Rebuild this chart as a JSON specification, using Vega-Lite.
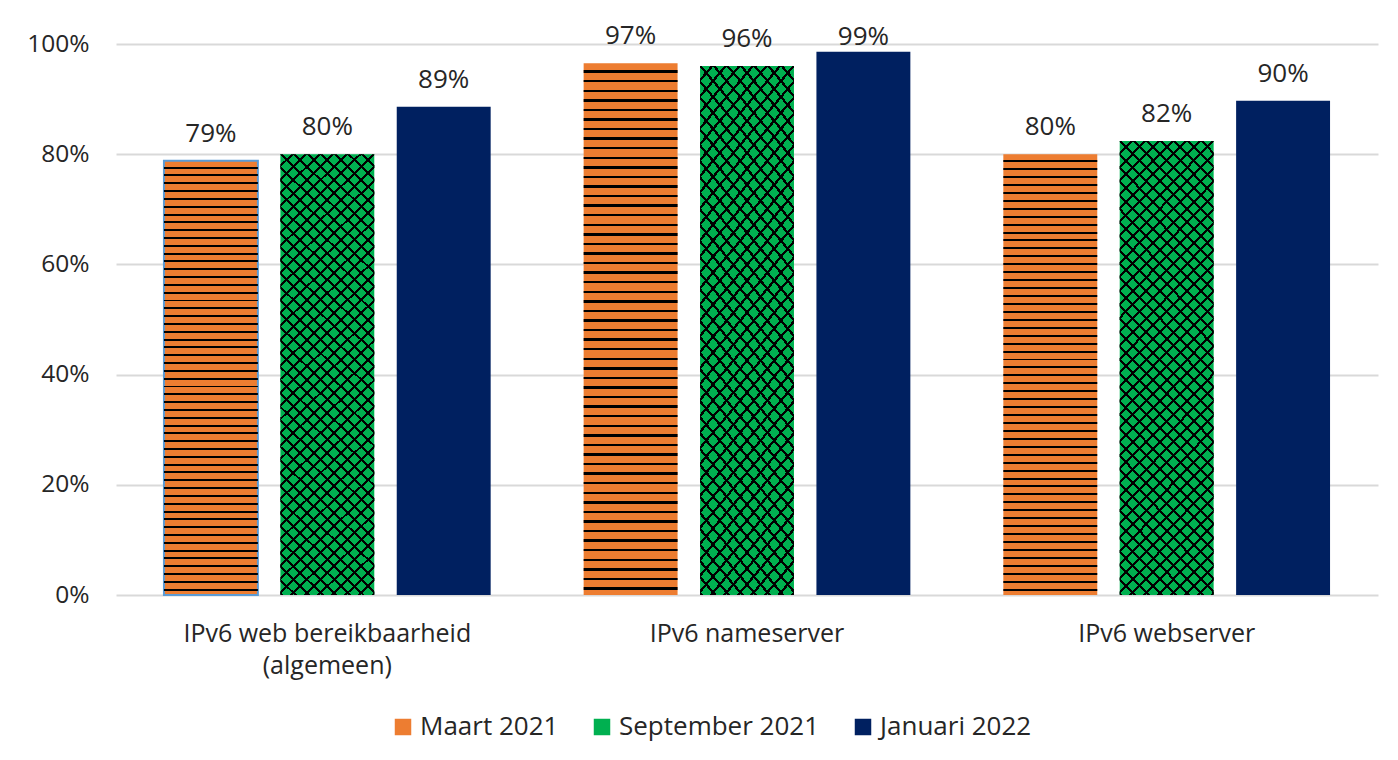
{
  "$schema": "https://vega.github.io/schema/vega-lite/v6.json",
  "width": 1262,
  "height": 551,
  "autosize": {"type": "none"},
  "padding": {"left": 116, "top": 44, "right": 20, "bottom": 165},
  "background": "white",
  "config": {
    "font": "Open Sans",
    "view": {"stroke": null},
    "axis": {"labelColor": "#262626", "titleColor": "#262626"}
  },
  "data": {
    "values": [
      {"cat": "IPv6 web bereikbaarheid (algemeen)", "series": "Maart 2021", "value": 0.788},
      {"cat": "IPv6 web bereikbaarheid (algemeen)", "series": "September 2021", "value": 0.80},
      {"cat": "IPv6 web bereikbaarheid (algemeen)", "series": "Januari 2022", "value": 0.886},
      {"cat": "IPv6 nameserver", "series": "Maart 2021", "value": 0.965},
      {"cat": "IPv6 nameserver", "series": "September 2021", "value": 0.96},
      {"cat": "IPv6 nameserver", "series": "Januari 2022", "value": 0.986},
      {"cat": "IPv6 webserver", "series": "Maart 2021", "value": 0.80},
      {"cat": "IPv6 webserver", "series": "September 2021", "value": 0.824},
      {"cat": "IPv6 webserver", "series": "Januari 2022", "value": 0.897}
    ]
  },
  "encoding": {
    "x": {
      "field": "cat",
      "type": "nominal",
      "sort": ["IPv6 web bereikbaarheid (algemeen)", "IPv6 nameserver", "IPv6 webserver"],
      "scale": {"paddingInner": 0.168, "paddingOuter": 0.0875},
      "axis": {
        "title": null,
        "labelAngle": 0,
        "labelFontSize": 25,
        "labelPadding": 26,
        "labelLineHeight": 32,
        "labelLimit": 0,
        "ticks": false,
        "domain": false,
        "labelExpr": "datum.value === 'IPv6 web bereikbaarheid (algemeen)' ? ['IPv6 web bereikbaarheid', '(algemeen)'] : datum.label"
      }
    },
    "xOffset": {
      "field": "series",
      "type": "nominal",
      "sort": ["Maart 2021", "September 2021", "Januari 2022"],
      "scale": {"domain": ["Maart 2021", "September 2021", "Januari 2022"], "paddingInner": 0.193, "paddingOuter": 0.0965}
    },
    "y": {
      "field": "value",
      "type": "quantitative",
      "scale": {"domain": [0, 1], "nice": false},
      "axis": {
        "title": null,
        "values": [0, 0.2, 0.4, 0.6, 0.8, 1],
        "format": ".0%",
        "labelFontSize": 24.5,
        "labelPadding": 27,
        "ticks": false,
        "domain": false,
        "gridColor": "#d9d9d9",
        "gridWidth": 2
      }
    }
  },
  "layer": [
    {
      "mark": {"type": "bar", "strokeWidth": 2},
      "encoding": {
        "color": {
          "field": "series",
          "type": "nominal",
          "scale": {
            "domain": ["Maart 2021", "September 2021", "Januari 2022"],
            "range": ["#ED7D31", "#00B050", "#002060"]
          },
          "legend": {
            "title": null,
            "orient": "none",
            "legendX": 274,
            "legendY": 670,
            "direction": "horizontal",
            "symbolType": "square",
            "symbolSize": 272,
            "symbolStrokeWidth": 0,
            "labelFontSize": 26,
            "labelColor": "#262626",
            "labelOffset": 4,
            "columnPadding": 30,
            "labelLimit": 0,
            "encode": {
              "symbols": {
                "enter": {
                  "fill": {"signal": "datum.value === 'Maart 2021' ? {gradient: 'linear', x1: 0, y1: 0, x2: 0, y2: 1, stops: [{offset: 0, color: '#ED7D31'}, {offset: 0.3, color: '#ED7D31'}, {offset: 0.3, color: '#000'}, {offset: 0.42, color: '#000'}, {offset: 0.42, color: '#ED7D31'}, {offset: 0.62, color: '#ED7D31'}, {offset: 0.62, color: '#000'}, {offset: 0.74, color: '#000'}, {offset: 0.74, color: '#ED7D31'}, {offset: 1, color: '#ED7D31'}]} : datum.value === 'September 2021' ? {gradient: 'linear', x1: 0, y1: 0, x2: 1, y2: 1, stops: [{offset: 0, color: '#00B050'}, {offset: 0.22, color: '#00B050'}, {offset: 0.22, color: '#000'}, {offset: 0.29, color: '#000'}, {offset: 0.29, color: '#00B050'}, {offset: 0.71, color: '#00B050'}, {offset: 0.71, color: '#000'}, {offset: 0.78, color: '#000'}, {offset: 0.78, color: '#00B050'}, {offset: 1, color: '#00B050'}]} : '#002060'"}
                },
                "update": {
                  "fill": {"signal": "datum.value === 'Maart 2021' ? {gradient: 'linear', x1: 0, y1: 0, x2: 0, y2: 1, stops: [{offset: 0, color: '#ED7D31'}, {offset: 0.3, color: '#ED7D31'}, {offset: 0.3, color: '#000'}, {offset: 0.42, color: '#000'}, {offset: 0.42, color: '#ED7D31'}, {offset: 0.62, color: '#ED7D31'}, {offset: 0.62, color: '#000'}, {offset: 0.74, color: '#000'}, {offset: 0.74, color: '#ED7D31'}, {offset: 1, color: '#ED7D31'}]} : datum.value === 'September 2021' ? {gradient: 'linear', x1: 0, y1: 0, x2: 1, y2: 1, stops: [{offset: 0, color: '#00B050'}, {offset: 0.22, color: '#00B050'}, {offset: 0.22, color: '#000'}, {offset: 0.29, color: '#000'}, {offset: 0.29, color: '#00B050'}, {offset: 0.71, color: '#00B050'}, {offset: 0.71, color: '#000'}, {offset: 0.78, color: '#000'}, {offset: 0.78, color: '#00B050'}, {offset: 1, color: '#00B050'}]} : '#002060'"}
                }
              }
            }
          }
        },
        "stroke": {
          "condition": {"test": "datum.cat === 'IPv6 web bereikbaarheid (algemeen)' && datum.series === 'Maart 2021'", "value": "#5B9BD5"},
          "value": "rgba(0,0,0,0)"
        }
      }
    },
    {
      "transform": [{"filter": "datum.series === 'Maart 2021'"}],
      "mark": {
        "type": "bar",
        "fill": {"gradient": "linear", "x1": 0, "y1": 0, "x2": 0, "y2": 1, "stops": [
          {"offset": 0, "color": "rgba(0,0,0,0)"}, {"offset": 0.0135, "color": "rgba(0,0,0,0)"}, {"offset": 0.0135, "color": "#000"}, {"offset": 0.018, "color": "#000"},
          {"offset": 0.018, "color": "rgba(0,0,0,0)"}, {"offset": 0.0315, "color": "rgba(0,0,0,0)"}, {"offset": 0.0315, "color": "#000"}, {"offset": 0.036, "color": "#000"},
          {"offset": 0.036, "color": "rgba(0,0,0,0)"}, {"offset": 0.0495, "color": "rgba(0,0,0,0)"}, {"offset": 0.0495, "color": "#000"}, {"offset": 0.054, "color": "#000"},
          {"offset": 0.054, "color": "rgba(0,0,0,0)"}, {"offset": 0.0675, "color": "rgba(0,0,0,0)"}, {"offset": 0.0675, "color": "#000"}, {"offset": 0.072, "color": "#000"},
          {"offset": 0.072, "color": "rgba(0,0,0,0)"}, {"offset": 0.0855, "color": "rgba(0,0,0,0)"}, {"offset": 0.0855, "color": "#000"}, {"offset": 0.09, "color": "#000"},
          {"offset": 0.09, "color": "rgba(0,0,0,0)"}, {"offset": 0.1035, "color": "rgba(0,0,0,0)"}, {"offset": 0.1035, "color": "#000"}, {"offset": 0.108, "color": "#000"},
          {"offset": 0.108, "color": "rgba(0,0,0,0)"}, {"offset": 0.1215, "color": "rgba(0,0,0,0)"}, {"offset": 0.1215, "color": "#000"}, {"offset": 0.126, "color": "#000"},
          {"offset": 0.126, "color": "rgba(0,0,0,0)"}, {"offset": 0.1395, "color": "rgba(0,0,0,0)"}, {"offset": 0.1395, "color": "#000"}, {"offset": 0.144, "color": "#000"},
          {"offset": 0.144, "color": "rgba(0,0,0,0)"}, {"offset": 0.1575, "color": "rgba(0,0,0,0)"}, {"offset": 0.1575, "color": "#000"}, {"offset": 0.162, "color": "#000"},
          {"offset": 0.162, "color": "rgba(0,0,0,0)"}, {"offset": 0.1755, "color": "rgba(0,0,0,0)"}, {"offset": 0.1755, "color": "#000"}, {"offset": 0.18, "color": "#000"},
          {"offset": 0.18, "color": "rgba(0,0,0,0)"}, {"offset": 0.1935, "color": "rgba(0,0,0,0)"}, {"offset": 0.1935, "color": "#000"}, {"offset": 0.198, "color": "#000"},
          {"offset": 0.198, "color": "rgba(0,0,0,0)"}, {"offset": 0.2115, "color": "rgba(0,0,0,0)"}, {"offset": 0.2115, "color": "#000"}, {"offset": 0.216, "color": "#000"},
          {"offset": 0.216, "color": "rgba(0,0,0,0)"}, {"offset": 0.2295, "color": "rgba(0,0,0,0)"}, {"offset": 0.2295, "color": "#000"}, {"offset": 0.234, "color": "#000"},
          {"offset": 0.234, "color": "rgba(0,0,0,0)"}, {"offset": 0.2475, "color": "rgba(0,0,0,0)"}, {"offset": 0.2475, "color": "#000"}, {"offset": 0.252, "color": "#000"},
          {"offset": 0.252, "color": "rgba(0,0,0,0)"}, {"offset": 0.2655, "color": "rgba(0,0,0,0)"}, {"offset": 0.2655, "color": "#000"}, {"offset": 0.27, "color": "#000"},
          {"offset": 0.27, "color": "rgba(0,0,0,0)"}, {"offset": 0.2835, "color": "rgba(0,0,0,0)"}, {"offset": 0.2835, "color": "#000"}, {"offset": 0.288, "color": "#000"},
          {"offset": 0.288, "color": "rgba(0,0,0,0)"}, {"offset": 0.3015, "color": "rgba(0,0,0,0)"}, {"offset": 0.3015, "color": "#000"}, {"offset": 0.306, "color": "#000"},
          {"offset": 0.306, "color": "rgba(0,0,0,0)"}, {"offset": 0.3195, "color": "rgba(0,0,0,0)"}, {"offset": 0.3195, "color": "#000"}, {"offset": 0.324, "color": "#000"},
          {"offset": 0.324, "color": "rgba(0,0,0,0)"}, {"offset": 0.3375, "color": "rgba(0,0,0,0)"}, {"offset": 0.3375, "color": "#000"}, {"offset": 0.342, "color": "#000"},
          {"offset": 0.342, "color": "rgba(0,0,0,0)"}, {"offset": 0.3555, "color": "rgba(0,0,0,0)"}, {"offset": 0.3555, "color": "#000"}, {"offset": 0.36, "color": "#000"},
          {"offset": 0.36, "color": "rgba(0,0,0,0)"}, {"offset": 0.3735, "color": "rgba(0,0,0,0)"}, {"offset": 0.3735, "color": "#000"}, {"offset": 0.378, "color": "#000"},
          {"offset": 0.378, "color": "rgba(0,0,0,0)"}, {"offset": 0.3915, "color": "rgba(0,0,0,0)"}, {"offset": 0.3915, "color": "#000"}, {"offset": 0.396, "color": "#000"},
          {"offset": 0.396, "color": "rgba(0,0,0,0)"}, {"offset": 0.4095, "color": "rgba(0,0,0,0)"}, {"offset": 0.4095, "color": "#000"}, {"offset": 0.414, "color": "#000"},
          {"offset": 0.414, "color": "rgba(0,0,0,0)"}, {"offset": 0.4275, "color": "rgba(0,0,0,0)"}, {"offset": 0.4275, "color": "#000"}, {"offset": 0.432, "color": "#000"},
          {"offset": 0.432, "color": "rgba(0,0,0,0)"}, {"offset": 0.4455, "color": "rgba(0,0,0,0)"}, {"offset": 0.4455, "color": "#000"}, {"offset": 0.45, "color": "#000"},
          {"offset": 0.45, "color": "rgba(0,0,0,0)"}, {"offset": 0.4635, "color": "rgba(0,0,0,0)"}, {"offset": 0.4635, "color": "#000"}, {"offset": 0.468, "color": "#000"},
          {"offset": 0.468, "color": "rgba(0,0,0,0)"}, {"offset": 0.4815, "color": "rgba(0,0,0,0)"}, {"offset": 0.4815, "color": "#000"}, {"offset": 0.486, "color": "#000"},
          {"offset": 0.486, "color": "rgba(0,0,0,0)"}, {"offset": 0.4995, "color": "rgba(0,0,0,0)"}, {"offset": 0.4995, "color": "#000"}, {"offset": 0.504, "color": "#000"},
          {"offset": 0.504, "color": "rgba(0,0,0,0)"}, {"offset": 0.5175, "color": "rgba(0,0,0,0)"}, {"offset": 0.5175, "color": "#000"}, {"offset": 0.522, "color": "#000"},
          {"offset": 0.522, "color": "rgba(0,0,0,0)"}, {"offset": 0.5355, "color": "rgba(0,0,0,0)"}, {"offset": 0.5355, "color": "#000"}, {"offset": 0.54, "color": "#000"},
          {"offset": 0.54, "color": "rgba(0,0,0,0)"}, {"offset": 0.5535, "color": "rgba(0,0,0,0)"}, {"offset": 0.5535, "color": "#000"}, {"offset": 0.558, "color": "#000"},
          {"offset": 0.558, "color": "rgba(0,0,0,0)"}, {"offset": 0.5715, "color": "rgba(0,0,0,0)"}, {"offset": 0.5715, "color": "#000"}, {"offset": 0.576, "color": "#000"},
          {"offset": 0.576, "color": "rgba(0,0,0,0)"}, {"offset": 0.5895, "color": "rgba(0,0,0,0)"}, {"offset": 0.5895, "color": "#000"}, {"offset": 0.594, "color": "#000"},
          {"offset": 0.594, "color": "rgba(0,0,0,0)"}, {"offset": 0.6075, "color": "rgba(0,0,0,0)"}, {"offset": 0.6075, "color": "#000"}, {"offset": 0.612, "color": "#000"},
          {"offset": 0.612, "color": "rgba(0,0,0,0)"}, {"offset": 0.6255, "color": "rgba(0,0,0,0)"}, {"offset": 0.6255, "color": "#000"}, {"offset": 0.63, "color": "#000"},
          {"offset": 0.63, "color": "rgba(0,0,0,0)"}, {"offset": 0.6435, "color": "rgba(0,0,0,0)"}, {"offset": 0.6435, "color": "#000"}, {"offset": 0.648, "color": "#000"},
          {"offset": 0.648, "color": "rgba(0,0,0,0)"}, {"offset": 0.6615, "color": "rgba(0,0,0,0)"}, {"offset": 0.6615, "color": "#000"}, {"offset": 0.666, "color": "#000"},
          {"offset": 0.666, "color": "rgba(0,0,0,0)"}, {"offset": 0.6795, "color": "rgba(0,0,0,0)"}, {"offset": 0.6795, "color": "#000"}, {"offset": 0.684, "color": "#000"},
          {"offset": 0.684, "color": "rgba(0,0,0,0)"}, {"offset": 0.6975, "color": "rgba(0,0,0,0)"}, {"offset": 0.6975, "color": "#000"}, {"offset": 0.702, "color": "#000"},
          {"offset": 0.702, "color": "rgba(0,0,0,0)"}, {"offset": 0.7155, "color": "rgba(0,0,0,0)"}, {"offset": 0.7155, "color": "#000"}, {"offset": 0.72, "color": "#000"},
          {"offset": 0.72, "color": "rgba(0,0,0,0)"}, {"offset": 0.7335, "color": "rgba(0,0,0,0)"}, {"offset": 0.7335, "color": "#000"}, {"offset": 0.738, "color": "#000"},
          {"offset": 0.738, "color": "rgba(0,0,0,0)"}, {"offset": 0.7515, "color": "rgba(0,0,0,0)"}, {"offset": 0.7515, "color": "#000"}, {"offset": 0.756, "color": "#000"},
          {"offset": 0.756, "color": "rgba(0,0,0,0)"}, {"offset": 0.7695, "color": "rgba(0,0,0,0)"}, {"offset": 0.7695, "color": "#000"}, {"offset": 0.774, "color": "#000"},
          {"offset": 0.774, "color": "rgba(0,0,0,0)"}, {"offset": 0.7875, "color": "rgba(0,0,0,0)"}, {"offset": 0.7875, "color": "#000"}, {"offset": 0.792, "color": "#000"},
          {"offset": 0.792, "color": "rgba(0,0,0,0)"}, {"offset": 0.8055, "color": "rgba(0,0,0,0)"}, {"offset": 0.8055, "color": "#000"}, {"offset": 0.81, "color": "#000"},
          {"offset": 0.81, "color": "rgba(0,0,0,0)"}, {"offset": 0.8235, "color": "rgba(0,0,0,0)"}, {"offset": 0.8235, "color": "#000"}, {"offset": 0.828, "color": "#000"},
          {"offset": 0.828, "color": "rgba(0,0,0,0)"}, {"offset": 0.8415, "color": "rgba(0,0,0,0)"}, {"offset": 0.8415, "color": "#000"}, {"offset": 0.846, "color": "#000"},
          {"offset": 0.846, "color": "rgba(0,0,0,0)"}, {"offset": 0.8595, "color": "rgba(0,0,0,0)"}, {"offset": 0.8595, "color": "#000"}, {"offset": 0.864, "color": "#000"},
          {"offset": 0.864, "color": "rgba(0,0,0,0)"}, {"offset": 0.8775, "color": "rgba(0,0,0,0)"}, {"offset": 0.8775, "color": "#000"}, {"offset": 0.882, "color": "#000"},
          {"offset": 0.882, "color": "rgba(0,0,0,0)"}, {"offset": 0.8955, "color": "rgba(0,0,0,0)"}, {"offset": 0.8955, "color": "#000"}, {"offset": 0.9, "color": "#000"},
          {"offset": 0.9, "color": "rgba(0,0,0,0)"}, {"offset": 0.9135, "color": "rgba(0,0,0,0)"}, {"offset": 0.9135, "color": "#000"}, {"offset": 0.918, "color": "#000"},
          {"offset": 0.918, "color": "rgba(0,0,0,0)"}, {"offset": 0.9315, "color": "rgba(0,0,0,0)"}, {"offset": 0.9315, "color": "#000"}, {"offset": 0.936, "color": "#000"},
          {"offset": 0.936, "color": "rgba(0,0,0,0)"}, {"offset": 0.9495, "color": "rgba(0,0,0,0)"}, {"offset": 0.9495, "color": "#000"}, {"offset": 0.954, "color": "#000"},
          {"offset": 0.954, "color": "rgba(0,0,0,0)"}, {"offset": 0.9675, "color": "rgba(0,0,0,0)"}, {"offset": 0.9675, "color": "#000"}, {"offset": 0.972, "color": "#000"},
          {"offset": 0.972, "color": "rgba(0,0,0,0)"}, {"offset": 0.9855, "color": "rgba(0,0,0,0)"}, {"offset": 0.9855, "color": "#000"}, {"offset": 0.99, "color": "#000"},
          {"offset": 0.99, "color": "rgba(0,0,0,0)"}, {"offset": 1, "color": "rgba(0,0,0,0)"}
        ]}
      }
    },
    {
      "transform": [{"filter": "datum.series === 'September 2021'"}],
      "mark": {
        "type": "bar",
        "fill": {"gradient": "linear", "x1": 0, "y1": 0, "x2": 0.242, "y2": 1.158, "stops": [
          {"offset": 0, "color": "rgba(0,0,0,0)"}, {"offset": 0.0195, "color": "rgba(0,0,0,0)"}, {"offset": 0.0195, "color": "#000"}, {"offset": 0.025, "color": "#000"},
          {"offset": 0.025, "color": "rgba(0,0,0,0)"}, {"offset": 0.0445, "color": "rgba(0,0,0,0)"}, {"offset": 0.0445, "color": "#000"}, {"offset": 0.05, "color": "#000"},
          {"offset": 0.05, "color": "rgba(0,0,0,0)"}, {"offset": 0.0695, "color": "rgba(0,0,0,0)"}, {"offset": 0.0695, "color": "#000"}, {"offset": 0.075, "color": "#000"},
          {"offset": 0.075, "color": "rgba(0,0,0,0)"}, {"offset": 0.0945, "color": "rgba(0,0,0,0)"}, {"offset": 0.0945, "color": "#000"}, {"offset": 0.1, "color": "#000"},
          {"offset": 0.1, "color": "rgba(0,0,0,0)"}, {"offset": 0.1195, "color": "rgba(0,0,0,0)"}, {"offset": 0.1195, "color": "#000"}, {"offset": 0.125, "color": "#000"},
          {"offset": 0.125, "color": "rgba(0,0,0,0)"}, {"offset": 0.1445, "color": "rgba(0,0,0,0)"}, {"offset": 0.1445, "color": "#000"}, {"offset": 0.15, "color": "#000"},
          {"offset": 0.15, "color": "rgba(0,0,0,0)"}, {"offset": 0.1695, "color": "rgba(0,0,0,0)"}, {"offset": 0.1695, "color": "#000"}, {"offset": 0.175, "color": "#000"},
          {"offset": 0.175, "color": "rgba(0,0,0,0)"}, {"offset": 0.1945, "color": "rgba(0,0,0,0)"}, {"offset": 0.1945, "color": "#000"}, {"offset": 0.2, "color": "#000"},
          {"offset": 0.2, "color": "rgba(0,0,0,0)"}, {"offset": 0.2195, "color": "rgba(0,0,0,0)"}, {"offset": 0.2195, "color": "#000"}, {"offset": 0.225, "color": "#000"},
          {"offset": 0.225, "color": "rgba(0,0,0,0)"}, {"offset": 0.2445, "color": "rgba(0,0,0,0)"}, {"offset": 0.2445, "color": "#000"}, {"offset": 0.25, "color": "#000"},
          {"offset": 0.25, "color": "rgba(0,0,0,0)"}, {"offset": 0.2695, "color": "rgba(0,0,0,0)"}, {"offset": 0.2695, "color": "#000"}, {"offset": 0.275, "color": "#000"},
          {"offset": 0.275, "color": "rgba(0,0,0,0)"}, {"offset": 0.2945, "color": "rgba(0,0,0,0)"}, {"offset": 0.2945, "color": "#000"}, {"offset": 0.3, "color": "#000"},
          {"offset": 0.3, "color": "rgba(0,0,0,0)"}, {"offset": 0.3195, "color": "rgba(0,0,0,0)"}, {"offset": 0.3195, "color": "#000"}, {"offset": 0.325, "color": "#000"},
          {"offset": 0.325, "color": "rgba(0,0,0,0)"}, {"offset": 0.3445, "color": "rgba(0,0,0,0)"}, {"offset": 0.3445, "color": "#000"}, {"offset": 0.35, "color": "#000"},
          {"offset": 0.35, "color": "rgba(0,0,0,0)"}, {"offset": 0.3695, "color": "rgba(0,0,0,0)"}, {"offset": 0.3695, "color": "#000"}, {"offset": 0.375, "color": "#000"},
          {"offset": 0.375, "color": "rgba(0,0,0,0)"}, {"offset": 0.3945, "color": "rgba(0,0,0,0)"}, {"offset": 0.3945, "color": "#000"}, {"offset": 0.4, "color": "#000"},
          {"offset": 0.4, "color": "rgba(0,0,0,0)"}, {"offset": 0.4195, "color": "rgba(0,0,0,0)"}, {"offset": 0.4195, "color": "#000"}, {"offset": 0.425, "color": "#000"},
          {"offset": 0.425, "color": "rgba(0,0,0,0)"}, {"offset": 0.4445, "color": "rgba(0,0,0,0)"}, {"offset": 0.4445, "color": "#000"}, {"offset": 0.45, "color": "#000"},
          {"offset": 0.45, "color": "rgba(0,0,0,0)"}, {"offset": 0.4695, "color": "rgba(0,0,0,0)"}, {"offset": 0.4695, "color": "#000"}, {"offset": 0.475, "color": "#000"},
          {"offset": 0.475, "color": "rgba(0,0,0,0)"}, {"offset": 0.4945, "color": "rgba(0,0,0,0)"}, {"offset": 0.4945, "color": "#000"}, {"offset": 0.5, "color": "#000"},
          {"offset": 0.5, "color": "rgba(0,0,0,0)"}, {"offset": 0.5195, "color": "rgba(0,0,0,0)"}, {"offset": 0.5195, "color": "#000"}, {"offset": 0.525, "color": "#000"},
          {"offset": 0.525, "color": "rgba(0,0,0,0)"}, {"offset": 0.5445, "color": "rgba(0,0,0,0)"}, {"offset": 0.5445, "color": "#000"}, {"offset": 0.55, "color": "#000"},
          {"offset": 0.55, "color": "rgba(0,0,0,0)"}, {"offset": 0.5695, "color": "rgba(0,0,0,0)"}, {"offset": 0.5695, "color": "#000"}, {"offset": 0.575, "color": "#000"},
          {"offset": 0.575, "color": "rgba(0,0,0,0)"}, {"offset": 0.5945, "color": "rgba(0,0,0,0)"}, {"offset": 0.5945, "color": "#000"}, {"offset": 0.6, "color": "#000"},
          {"offset": 0.6, "color": "rgba(0,0,0,0)"}, {"offset": 0.6195, "color": "rgba(0,0,0,0)"}, {"offset": 0.6195, "color": "#000"}, {"offset": 0.625, "color": "#000"},
          {"offset": 0.625, "color": "rgba(0,0,0,0)"}, {"offset": 0.6445, "color": "rgba(0,0,0,0)"}, {"offset": 0.6445, "color": "#000"}, {"offset": 0.65, "color": "#000"},
          {"offset": 0.65, "color": "rgba(0,0,0,0)"}, {"offset": 0.6695, "color": "rgba(0,0,0,0)"}, {"offset": 0.6695, "color": "#000"}, {"offset": 0.675, "color": "#000"},
          {"offset": 0.675, "color": "rgba(0,0,0,0)"}, {"offset": 0.6945, "color": "rgba(0,0,0,0)"}, {"offset": 0.6945, "color": "#000"}, {"offset": 0.7, "color": "#000"},
          {"offset": 0.7, "color": "rgba(0,0,0,0)"}, {"offset": 0.7195, "color": "rgba(0,0,0,0)"}, {"offset": 0.7195, "color": "#000"}, {"offset": 0.725, "color": "#000"},
          {"offset": 0.725, "color": "rgba(0,0,0,0)"}, {"offset": 0.7445, "color": "rgba(0,0,0,0)"}, {"offset": 0.7445, "color": "#000"}, {"offset": 0.75, "color": "#000"},
          {"offset": 0.75, "color": "rgba(0,0,0,0)"}, {"offset": 0.7695, "color": "rgba(0,0,0,0)"}, {"offset": 0.7695, "color": "#000"}, {"offset": 0.775, "color": "#000"},
          {"offset": 0.775, "color": "rgba(0,0,0,0)"}, {"offset": 0.7945, "color": "rgba(0,0,0,0)"}, {"offset": 0.7945, "color": "#000"}, {"offset": 0.8, "color": "#000"},
          {"offset": 0.8, "color": "rgba(0,0,0,0)"}, {"offset": 0.8195, "color": "rgba(0,0,0,0)"}, {"offset": 0.8195, "color": "#000"}, {"offset": 0.825, "color": "#000"},
          {"offset": 0.825, "color": "rgba(0,0,0,0)"}, {"offset": 0.8445, "color": "rgba(0,0,0,0)"}, {"offset": 0.8445, "color": "#000"}, {"offset": 0.85, "color": "#000"},
          {"offset": 0.85, "color": "rgba(0,0,0,0)"}, {"offset": 0.8695, "color": "rgba(0,0,0,0)"}, {"offset": 0.8695, "color": "#000"}, {"offset": 0.875, "color": "#000"},
          {"offset": 0.875, "color": "rgba(0,0,0,0)"}, {"offset": 0.8945, "color": "rgba(0,0,0,0)"}, {"offset": 0.8945, "color": "#000"}, {"offset": 0.9, "color": "#000"},
          {"offset": 0.9, "color": "rgba(0,0,0,0)"}, {"offset": 0.9195, "color": "rgba(0,0,0,0)"}, {"offset": 0.9195, "color": "#000"}, {"offset": 0.925, "color": "#000"},
          {"offset": 0.925, "color": "rgba(0,0,0,0)"}, {"offset": 0.9445, "color": "rgba(0,0,0,0)"}, {"offset": 0.9445, "color": "#000"}, {"offset": 0.95, "color": "#000"},
          {"offset": 0.95, "color": "rgba(0,0,0,0)"}, {"offset": 0.9695, "color": "rgba(0,0,0,0)"}, {"offset": 0.9695, "color": "#000"}, {"offset": 0.975, "color": "#000"},
          {"offset": 0.975, "color": "rgba(0,0,0,0)"}, {"offset": 0.9945, "color": "rgba(0,0,0,0)"}, {"offset": 0.9945, "color": "#000"}, {"offset": 1, "color": "#000"}
        ]}
      }
    },
    {
      "transform": [{"filter": "datum.series === 'September 2021'"}],
      "mark": {
        "type": "bar",
        "fill": {"gradient": "linear", "x1": 1, "y1": 0, "x2": 0.758, "y2": 1.158, "stops": [
          {"offset": 0, "color": "rgba(0,0,0,0)"}, {"offset": 0.0195, "color": "rgba(0,0,0,0)"}, {"offset": 0.0195, "color": "#000"}, {"offset": 0.025, "color": "#000"},
          {"offset": 0.025, "color": "rgba(0,0,0,0)"}, {"offset": 0.0445, "color": "rgba(0,0,0,0)"}, {"offset": 0.0445, "color": "#000"}, {"offset": 0.05, "color": "#000"},
          {"offset": 0.05, "color": "rgba(0,0,0,0)"}, {"offset": 0.0695, "color": "rgba(0,0,0,0)"}, {"offset": 0.0695, "color": "#000"}, {"offset": 0.075, "color": "#000"},
          {"offset": 0.075, "color": "rgba(0,0,0,0)"}, {"offset": 0.0945, "color": "rgba(0,0,0,0)"}, {"offset": 0.0945, "color": "#000"}, {"offset": 0.1, "color": "#000"},
          {"offset": 0.1, "color": "rgba(0,0,0,0)"}, {"offset": 0.1195, "color": "rgba(0,0,0,0)"}, {"offset": 0.1195, "color": "#000"}, {"offset": 0.125, "color": "#000"},
          {"offset": 0.125, "color": "rgba(0,0,0,0)"}, {"offset": 0.1445, "color": "rgba(0,0,0,0)"}, {"offset": 0.1445, "color": "#000"}, {"offset": 0.15, "color": "#000"},
          {"offset": 0.15, "color": "rgba(0,0,0,0)"}, {"offset": 0.1695, "color": "rgba(0,0,0,0)"}, {"offset": 0.1695, "color": "#000"}, {"offset": 0.175, "color": "#000"},
          {"offset": 0.175, "color": "rgba(0,0,0,0)"}, {"offset": 0.1945, "color": "rgba(0,0,0,0)"}, {"offset": 0.1945, "color": "#000"}, {"offset": 0.2, "color": "#000"},
          {"offset": 0.2, "color": "rgba(0,0,0,0)"}, {"offset": 0.2195, "color": "rgba(0,0,0,0)"}, {"offset": 0.2195, "color": "#000"}, {"offset": 0.225, "color": "#000"},
          {"offset": 0.225, "color": "rgba(0,0,0,0)"}, {"offset": 0.2445, "color": "rgba(0,0,0,0)"}, {"offset": 0.2445, "color": "#000"}, {"offset": 0.25, "color": "#000"},
          {"offset": 0.25, "color": "rgba(0,0,0,0)"}, {"offset": 0.2695, "color": "rgba(0,0,0,0)"}, {"offset": 0.2695, "color": "#000"}, {"offset": 0.275, "color": "#000"},
          {"offset": 0.275, "color": "rgba(0,0,0,0)"}, {"offset": 0.2945, "color": "rgba(0,0,0,0)"}, {"offset": 0.2945, "color": "#000"}, {"offset": 0.3, "color": "#000"},
          {"offset": 0.3, "color": "rgba(0,0,0,0)"}, {"offset": 0.3195, "color": "rgba(0,0,0,0)"}, {"offset": 0.3195, "color": "#000"}, {"offset": 0.325, "color": "#000"},
          {"offset": 0.325, "color": "rgba(0,0,0,0)"}, {"offset": 0.3445, "color": "rgba(0,0,0,0)"}, {"offset": 0.3445, "color": "#000"}, {"offset": 0.35, "color": "#000"},
          {"offset": 0.35, "color": "rgba(0,0,0,0)"}, {"offset": 0.3695, "color": "rgba(0,0,0,0)"}, {"offset": 0.3695, "color": "#000"}, {"offset": 0.375, "color": "#000"},
          {"offset": 0.375, "color": "rgba(0,0,0,0)"}, {"offset": 0.3945, "color": "rgba(0,0,0,0)"}, {"offset": 0.3945, "color": "#000"}, {"offset": 0.4, "color": "#000"},
          {"offset": 0.4, "color": "rgba(0,0,0,0)"}, {"offset": 0.4195, "color": "rgba(0,0,0,0)"}, {"offset": 0.4195, "color": "#000"}, {"offset": 0.425, "color": "#000"},
          {"offset": 0.425, "color": "rgba(0,0,0,0)"}, {"offset": 0.4445, "color": "rgba(0,0,0,0)"}, {"offset": 0.4445, "color": "#000"}, {"offset": 0.45, "color": "#000"},
          {"offset": 0.45, "color": "rgba(0,0,0,0)"}, {"offset": 0.4695, "color": "rgba(0,0,0,0)"}, {"offset": 0.4695, "color": "#000"}, {"offset": 0.475, "color": "#000"},
          {"offset": 0.475, "color": "rgba(0,0,0,0)"}, {"offset": 0.4945, "color": "rgba(0,0,0,0)"}, {"offset": 0.4945, "color": "#000"}, {"offset": 0.5, "color": "#000"},
          {"offset": 0.5, "color": "rgba(0,0,0,0)"}, {"offset": 0.5195, "color": "rgba(0,0,0,0)"}, {"offset": 0.5195, "color": "#000"}, {"offset": 0.525, "color": "#000"},
          {"offset": 0.525, "color": "rgba(0,0,0,0)"}, {"offset": 0.5445, "color": "rgba(0,0,0,0)"}, {"offset": 0.5445, "color": "#000"}, {"offset": 0.55, "color": "#000"},
          {"offset": 0.55, "color": "rgba(0,0,0,0)"}, {"offset": 0.5695, "color": "rgba(0,0,0,0)"}, {"offset": 0.5695, "color": "#000"}, {"offset": 0.575, "color": "#000"},
          {"offset": 0.575, "color": "rgba(0,0,0,0)"}, {"offset": 0.5945, "color": "rgba(0,0,0,0)"}, {"offset": 0.5945, "color": "#000"}, {"offset": 0.6, "color": "#000"},
          {"offset": 0.6, "color": "rgba(0,0,0,0)"}, {"offset": 0.6195, "color": "rgba(0,0,0,0)"}, {"offset": 0.6195, "color": "#000"}, {"offset": 0.625, "color": "#000"},
          {"offset": 0.625, "color": "rgba(0,0,0,0)"}, {"offset": 0.6445, "color": "rgba(0,0,0,0)"}, {"offset": 0.6445, "color": "#000"}, {"offset": 0.65, "color": "#000"},
          {"offset": 0.65, "color": "rgba(0,0,0,0)"}, {"offset": 0.6695, "color": "rgba(0,0,0,0)"}, {"offset": 0.6695, "color": "#000"}, {"offset": 0.675, "color": "#000"},
          {"offset": 0.675, "color": "rgba(0,0,0,0)"}, {"offset": 0.6945, "color": "rgba(0,0,0,0)"}, {"offset": 0.6945, "color": "#000"}, {"offset": 0.7, "color": "#000"},
          {"offset": 0.7, "color": "rgba(0,0,0,0)"}, {"offset": 0.7195, "color": "rgba(0,0,0,0)"}, {"offset": 0.7195, "color": "#000"}, {"offset": 0.725, "color": "#000"},
          {"offset": 0.725, "color": "rgba(0,0,0,0)"}, {"offset": 0.7445, "color": "rgba(0,0,0,0)"}, {"offset": 0.7445, "color": "#000"}, {"offset": 0.75, "color": "#000"},
          {"offset": 0.75, "color": "rgba(0,0,0,0)"}, {"offset": 0.7695, "color": "rgba(0,0,0,0)"}, {"offset": 0.7695, "color": "#000"}, {"offset": 0.775, "color": "#000"},
          {"offset": 0.775, "color": "rgba(0,0,0,0)"}, {"offset": 0.7945, "color": "rgba(0,0,0,0)"}, {"offset": 0.7945, "color": "#000"}, {"offset": 0.8, "color": "#000"},
          {"offset": 0.8, "color": "rgba(0,0,0,0)"}, {"offset": 0.8195, "color": "rgba(0,0,0,0)"}, {"offset": 0.8195, "color": "#000"}, {"offset": 0.825, "color": "#000"},
          {"offset": 0.825, "color": "rgba(0,0,0,0)"}, {"offset": 0.8445, "color": "rgba(0,0,0,0)"}, {"offset": 0.8445, "color": "#000"}, {"offset": 0.85, "color": "#000"},
          {"offset": 0.85, "color": "rgba(0,0,0,0)"}, {"offset": 0.8695, "color": "rgba(0,0,0,0)"}, {"offset": 0.8695, "color": "#000"}, {"offset": 0.875, "color": "#000"},
          {"offset": 0.875, "color": "rgba(0,0,0,0)"}, {"offset": 0.8945, "color": "rgba(0,0,0,0)"}, {"offset": 0.8945, "color": "#000"}, {"offset": 0.9, "color": "#000"},
          {"offset": 0.9, "color": "rgba(0,0,0,0)"}, {"offset": 0.9195, "color": "rgba(0,0,0,0)"}, {"offset": 0.9195, "color": "#000"}, {"offset": 0.925, "color": "#000"},
          {"offset": 0.925, "color": "rgba(0,0,0,0)"}, {"offset": 0.9445, "color": "rgba(0,0,0,0)"}, {"offset": 0.9445, "color": "#000"}, {"offset": 0.95, "color": "#000"},
          {"offset": 0.95, "color": "rgba(0,0,0,0)"}, {"offset": 0.9695, "color": "rgba(0,0,0,0)"}, {"offset": 0.9695, "color": "#000"}, {"offset": 0.975, "color": "#000"},
          {"offset": 0.975, "color": "rgba(0,0,0,0)"}, {"offset": 0.9945, "color": "rgba(0,0,0,0)"}, {"offset": 0.9945, "color": "#000"}, {"offset": 1, "color": "#000"}
        ]}
      }
    },
    {
      "mark": {
        "type": "text",
        "fontSize": 26,
        "color": "#262626",
        "baseline": "alphabetic",
        "dy": {"expr": "datum.value > 0.97 ? -7 : -19"}
      },
      "encoding": {
        "text": {"field": "value", "type": "quantitative", "format": ".0%"}
      }
    }
  ]
}
